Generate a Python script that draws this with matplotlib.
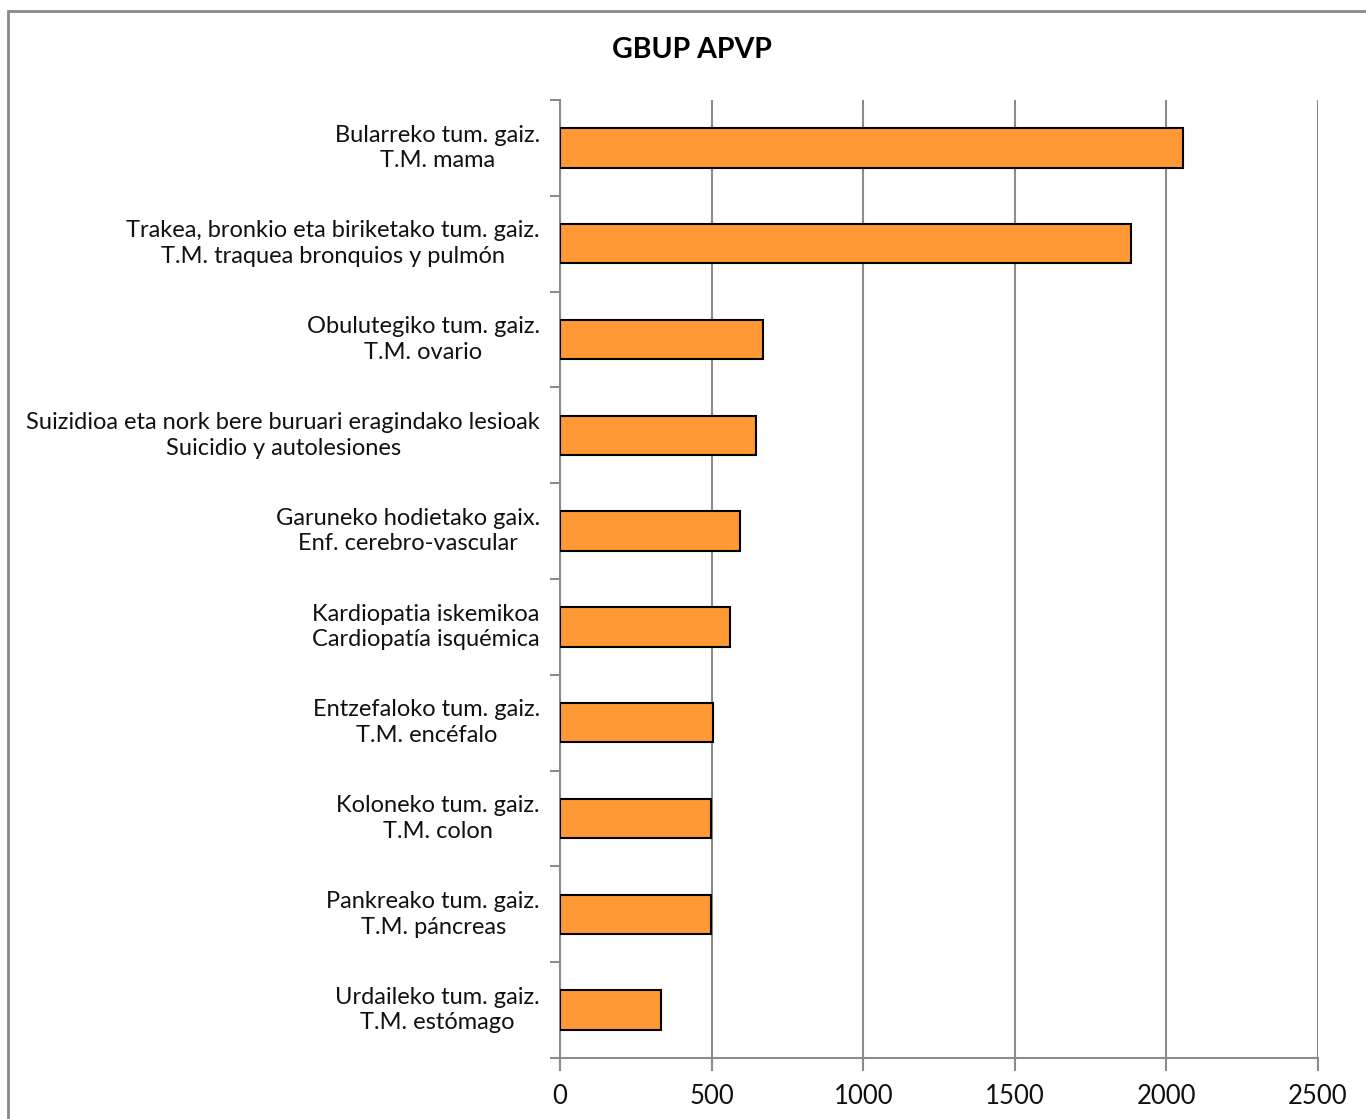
import matplotlib
matplotlib.use("Agg")
import matplotlib.pyplot as plt
from matplotlib.patches import Rectangle

categories = [
    "Bularreko tum. gaiz.\nT.M. mama",
    "Trakea, bronkio eta biriketako tum. gaiz.\nT.M. traquea bronquios y pulmón",
    "Obulutegiko tum. gaiz.\nT.M. ovario",
    "Suizidioa eta nork bere buruari eragindako lesioak\nSuicidio y autolesiones",
    "Garuneko hodietako gaix.\nEnf. cerebro-vascular",
    "Kardiopatia iskemikoa\nCardiopatía isquémica",
    "Entzefaloko tum. gaiz.\nT.M. encéfalo",
    "Koloneko tum. gaiz.\nT.M. colon",
    "Pankreako tum. gaiz.\nT.M. páncreas",
    "Urdaileko tum. gaiz.\nT.M. estómago",
]
values = [2055, 1883, 670, 646, 594, 561, 505, 498, 498, 333]
xticks = [0, 500, 1000, 1500, 2000, 2500]
title = "GBUP APVP"

plt.rcParams['font.family'] = ['Lato', 'DejaVu Sans']
W, H = 1366, 1119
fig = plt.figure(figsize=(W/100, H/100), dpi=100)
ax = fig.add_axes([560/W, 1 - 1058/H, (1318-560)/W, (1058-100)/H])

n = len(categories)
pos = list(range(n))
ax.barh(pos, values, height=0.41, color='#FF9933', edgecolor='black', linewidth=1.5, zorder=3)
ax.set_ylim(n - 0.5, -0.5)
ax.set_xlim(0, 2500)
ax.set_xticks(xticks)
ax.set_xticklabels([str(t) for t in xticks], fontsize=18.5, color='#111111')
ax.tick_params(axis='x', length=9, width=1.5, color='#8c8c8c', pad=10)
ax.set_yticks([])
ax.set_yticks([i - 0.5 for i in range(n + 1)], minor=True)
ax.tick_params(axis='y', which='minor', length=7, width=1.5, color='#8c8c8c')
ax.grid(axis='x', color='#8c8c8c', linewidth=1.5, zorder=0)
for s in ['top', 'right']:
    ax.spines[s].set_visible(False)
for s in ['left', 'bottom']:
    ax.spines[s].set_color('#8c8c8c')
    ax.spines[s].set_linewidth(1.5)
for i, lab in enumerate(categories):
    ax.annotate(lab, xy=(0, i), xycoords='data', xytext=(-14.4, 0), textcoords='offset points',
                ha='right', va='center', multialignment='center',
                fontsize=17, color='#111111', linespacing=1.27)

fig.text(692/W, 1 - 50/H, title, ha='center', va='center', fontsize=20.5, fontweight='bold')
fig.patches.append(Rectangle((8/W, -0.1), 1.2, 1 - 11/H + 0.1, transform=fig.transFigure,
                             fill=False, edgecolor='#888888', linewidth=2))
fig.savefig("out.png", dpi=100)
